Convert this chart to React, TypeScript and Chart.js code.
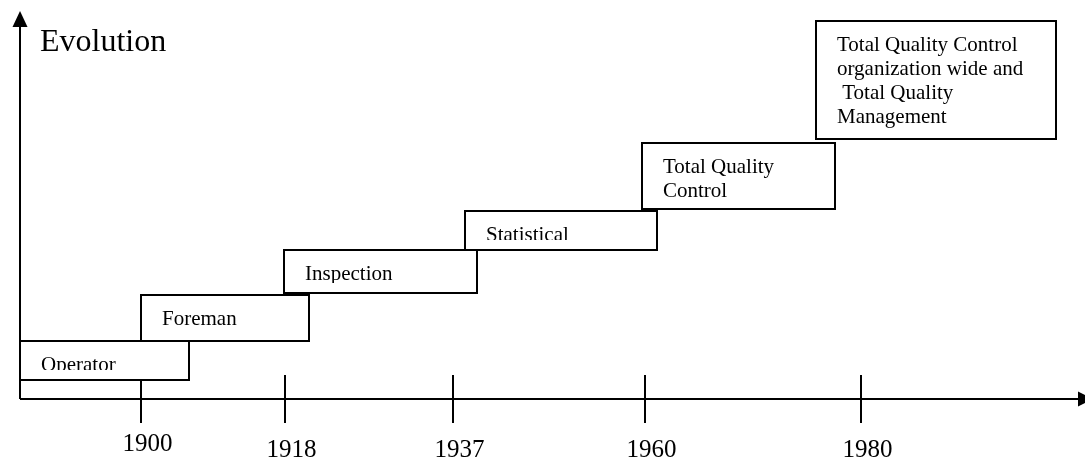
import React, { useEffect, useRef } from "react";
import { Chart, registerables } from "chart.js";

Chart.register(...registerables);

// Stages of the evolution of quality (box label, start/end along the timeline, low/high on the evolution axis)
const stageLabels = [
  "Operator",
  "Foreman",
  "Inspection",
  "Statistical",
  "Total Quality\nControl",
  "Total Quality Control\norganization wide and\n Total Quality\nManagement",
];
const stageStart = [0, 11.4, 24.9, 42.0, 58.7, 75.1];
const stageEnd = [15.9, 27.3, 43.1, 60.1, 76.9, 97.7];
const stageLow = [4.9, 14.95, 27.3, 38.4, 48.97, 67.0];
const stageHigh = [14.95, 26.8, 38.4, 48.45, 66.0, 97.4];

// Timeline ticks
const tickLabels = ["1900", "1918", "1937", "1960", "1980"];
const tickValues = [11.4, 25.0, 40.85, 58.96, 79.34];

const axisTitle = "Evolution";

const SERIF = '"Liberation Serif", "Times New Roman", Times, serif';

const diagramPlugin = {
  id: "qualityDiagram",
  afterDatasetsDraw(chart: any) {
    const ctx = chart.ctx as CanvasRenderingContext2D;
    const xs = chart.scales.x;
    const ys = chart.scales.y;
    const px = (v: number) => Math.round(xs.getPixelForValue(v));
    const py = (v: number) => Math.round(ys.getPixelForValue(v));
    const x0 = px(0);
    const y0 = py(0);
    const yTop = py(100);
    const xRight = px(100);

    ctx.save();
    ctx.strokeStyle = "#000";
    ctx.fillStyle = "#000";
    ctx.lineWidth = 2;

    // vertical axis with arrow
    ctx.beginPath();
    ctx.moveTo(x0, y0);
    ctx.lineTo(x0, yTop + 14);
    ctx.stroke();
    ctx.beginPath();
    ctx.moveTo(x0, yTop);
    ctx.lineTo(x0 - 7.5, yTop + 16);
    ctx.lineTo(x0 + 7.5, yTop + 16);
    ctx.closePath();
    ctx.fill();

    // horizontal axis with arrow
    ctx.beginPath();
    ctx.moveTo(x0, y0);
    ctx.lineTo(xRight, y0);
    ctx.stroke();
    ctx.beginPath();
    ctx.moveTo(xRight - 2, y0 - 7.5);
    ctx.lineTo(xRight + 13, y0);
    ctx.lineTo(xRight - 2, y0 + 7.5);
    ctx.closePath();
    ctx.fill();

    // tick marks
    tickValues.forEach((t) => {
      const x = px(t);
      ctx.beginPath();
      ctx.moveTo(x, y0 - 24);
      ctx.lineTo(x, y0 + 24);
      ctx.stroke();
    });

    // tick labels
    ctx.font = `25px ${SERIF}`;
    ctx.textAlign = "center";
    ctx.textBaseline = "alphabetic";
    tickLabels.forEach((lab, i) => {
      const lift = i === 0 ? 6 : 0;
      ctx.fillText(lab, px(tickValues[i]) + 6.5, y0 + 58 - lift);
    });

    // axis title
    ctx.font = `32px ${SERIF}`;
    ctx.textAlign = "left";
    ctx.fillText(axisTitle, x0 + 20, yTop + 40);

    // stage boxes
    ctx.font = `21px ${SERIF}`;
    stageLabels.forEach((lab, i) => {
      const l = px(stageStart[i]);
      const r = px(stageEnd[i]);
      const t = py(stageHigh[i]);
      const b = py(stageLow[i]);
      ctx.fillStyle = "#fff";
      ctx.fillRect(l, t, r - l, b - t);
      ctx.strokeStyle = "#000";
      ctx.lineWidth = 2;
      ctx.strokeRect(l, t, r - l, b - t);

      ctx.save();
      ctx.beginPath();
      ctx.rect(l + 2, t + 2, r - l - 4, b - t - 12);
      ctx.clip();
      ctx.fillStyle = "#000";
      ctx.textAlign = "left";
      lab.split("\n").forEach((line, k) => {
        ctx.fillText(line, l + 21, t + 30 + k * 24);
      });
      ctx.restore();
    });

    ctx.restore();
  },
};

export default function App() {
  const canvasRef = useRef<HTMLCanvasElement | null>(null);

  useEffect(() => {
    const canvas = canvasRef.current;
    if (!canvas) return;
    const chart = new Chart(canvas, {
      type: "scatter",
      data: {
        datasets: [
          {
            label: "stages",
            data: stageStart.map((s, i) => ({ x: s, y: stageLow[i] })),
            pointRadius: 0,
            pointHoverRadius: 0,
            showLine: false,
          },
        ],
      },
      options: {
        animation: false,
        responsive: false,
        devicePixelRatio: 1,
        events: [],
        layout: { padding: { left: 20, right: 5, top: 11, bottom: 60 } },
        plugins: {
          legend: { display: false },
          tooltip: { enabled: false },
          title: { display: false },
        },
        scales: {
          x: { type: "linear", min: 0, max: 100, display: false },
          y: { type: "linear", min: 0, max: 100, display: false },
        },
      },
      plugins: [diagramPlugin],
    });
    return () => chart.destroy();
  }, []);

  return (
    <div
      style={{
        position: "absolute",
        left: 0,
        top: 0,
        width: 1085,
        height: 459,
        background: "#fff",
      }}
    >
      <canvas ref={canvasRef} width={1085} height={459} style={{ width: 1085, height: 459, display: "block" }} />
    </div>
  );
}
